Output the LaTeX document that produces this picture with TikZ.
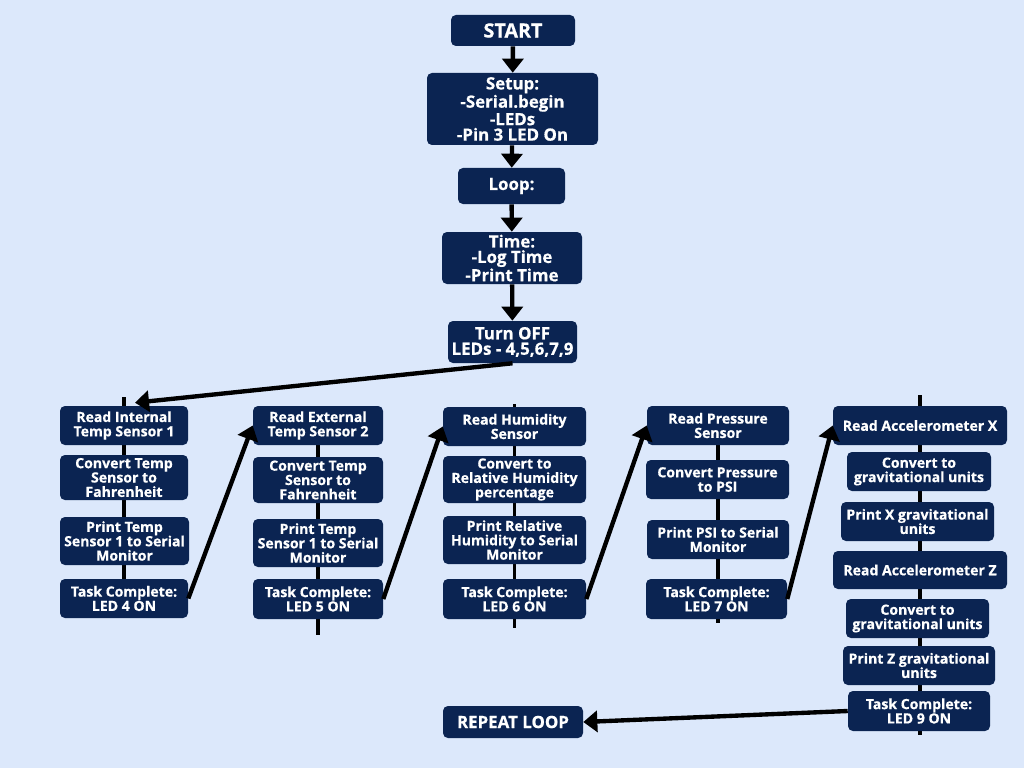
\documentclass[tikz,border=0pt]{standalone}
\usepackage{fontspec}
\setmainfont{Open Sans}[BoldFeatures={FakeBold=0.6}]
\usetikzlibrary{arrows.meta,backgrounds}
\definecolor{bgblue}{HTML}{DCE8FB}
\definecolor{navy}{HTML}{0B2452}
\tikzset{
  box/.style={fill=navy, text=white, rounded corners=3.5pt, inner sep=0pt, align=center,
    font=\bfseries\fontsize{10}{10.2}\selectfont},
  big/.style={font=\bfseries\fontsize{12}{11}\selectfont},
  arr/.style={line width=3.1pt, -{Triangle[width=15pt,length=10pt]}},
  colline/.style={line width=2.8pt},
}
\newcommand\bx[7][]{\node[box,#1,minimum width={(#5-#3)*0.025cm},minimum height={(#6-#4)*0.025cm}] (#2) at ({(#3+#5)/2},{(#4+#6)/2}) {#7};}
\begin{document}
\begin{tikzpicture}[x=0.025cm,y=-0.025cm]
\useasboundingbox (0,0) rectangle (1024,768);
% main flow
\bx[font=\bfseries\fontsize{14}{14}\selectfont]{start}{451}{15}{575}{46}{START}
\bx[big]{setup}{427}{73}{598}{145}{Setup:\\-Serial.begin\\-LEDs\\-Pin 3 LED On}
\bx[big]{loop}{458}{168}{565}{204}{Loop:}
\bx[big]{time}{442}{232}{582}{284}{Time:\\-Log Time\\-Print Time}
\bx[big]{off}{448}{321}{577}{363}{Turn OFF\\LEDs - 4,5,6,7,9}
% column 1
\bx{c1a}{60}{406}{188}{445}{Read Internal\\Temp Sensor 1}
\bx{c1b}{60}{455}{188}{500}{Convert Temp\\Sensor to\\Fahrenheit}
\bx{c1c}{60}{517}{189}{565}{Print Temp\\Sensor 1 to Serial\\Monitor}
\bx{c1d}{60}{579}{188}{618}{Task Complete:\\LED 4 ON}
% column 2
\bx{c2a}{253}{406}{383}{445}{Read External\\Temp Sensor 2}
\bx{c2b}{253}{457}{383}{503}{Convert Temp\\Sensor to\\Fahrenheit}
\bx{c2c}{253}{519}{383}{567}{Print Temp\\Sensor 1 to Serial\\Monitor}
\bx{c2d}{253}{579}{383}{619}{Task Complete:\\LED 5 ON}
% column 3
\bx{c3a}{443}{407}{586}{446}{Read Humidity\\Sensor}
\bx{c3b}{443}{456}{586}{503}{Convert to\\Relative Humidity\\percentage}
\bx{c3c}{443}{516}{586}{564}{Print Relative\\Humidity to Serial\\Monitor}
\bx{c3d}{443}{579}{586}{619}{Task Complete:\\LED 6 ON}
% column 4
\bx{c4a}{647}{406}{789}{445}{Read Pressure\\Sensor}
\bx{c4b}{646}{460}{789}{499}{Convert Pressure\\to PSI}
\bx{c4c}{647}{520}{789}{559}{Print PSI to Serial\\Monitor}
\bx{c4d}{646}{579}{787}{619}{Task Complete:\\LED 7 ON}
% column 5
\bx{c5a}{833}{406}{1007}{445}{Read Accelerometer X}
\bx{c5b}{847}{452}{991}{491}{Convert to\\gravitational units}
\bx{c5c}{841}{502}{994}{541}{Print X gravitational\\units}
\bx{c5d}{833}{551}{1007}{589}{Read Accelerometer Z}
\bx{c5e}{846}{599}{989}{638}{Convert to\\gravitational units}
\bx{c5f}{843}{646}{995}{685}{Print Z gravitational\\units}
\bx{c5g}{848}{691}{990}{731}{Task Complete:\\LED 9 ON}
% repeat
\bx[big]{rep}{443}{706}{583}{738}{REPEAT LOOP}
% stub coordinates
\coordinate (c1top) at (124,397);
\coordinate (c2bot) at (318,635);
\coordinate (c3top) at (514.5,404);
\coordinate (c3bot) at (514.5,628);
\coordinate (c4bot) at (718,623);
\coordinate (c5top) at (920,395);
\coordinate (c5bot) at (920,735);
\begin{scope}[on background layer]
  \fill[bgblue] (0,0) rectangle (1024,768);
  \draw[colline] (c1top) -- (c1d.center);
  \draw[colline] (c2a.center) -- (c2bot);
  \draw[colline] (c3top) -- (c3bot);
  \draw[colline] (c4a.center) -- (c4bot);
  \draw[colline] (c5top) -- (c5bot);
\end{scope}
% arrows
\draw[arr] (start) -- (setup);
\draw[arr] (setup) -- (loop);
\draw[arr] (loop) -- (time);
\draw[arr] (time) -- (off);
\draw[arr] (off.south) -- ([xshift=0.275cm,yshift=0.075cm]c1a.north);
\draw[arr] (c1d.east) -- (c2a.west);
\draw[arr] (c2d.east) -- (c3a.west);
\draw[arr] (c3d.east) -- (c4a.west);
\draw[arr] (c4d.east) -- (c5a.west);
\draw[arr] (c5g.west) -- (rep.east);
\end{tikzpicture}
\end{document}
